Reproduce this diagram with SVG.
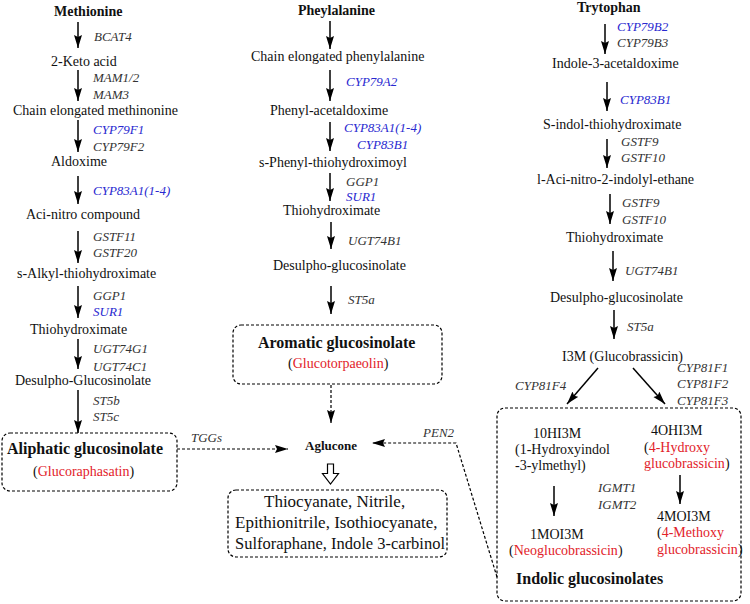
<svg xmlns="http://www.w3.org/2000/svg" width="750" height="604" viewBox="0 0 750 604">
<style>
text{font-family:"Liberation Serif","Times New Roman",serif;fill:#111;}
.n{font-size:14px;}
.t{font-size:14px;font-weight:bold;}
.b{font-size:16px;font-weight:bold;}
.l{font-size:13px;font-style:italic;fill:#333;}
.bl{fill:#2828d0;}
.r{fill:#e2222a;}
.p{font-size:17px;}
.ib{font-size:14px;}
.a{stroke:#000;stroke-width:1.5;fill:none;}
.d{stroke:#000;stroke-width:1.2;fill:none;stroke-dasharray:3,2;}
.box{stroke:#000;stroke-width:1.2;fill:#fff;stroke-dasharray:3,2;}
</style>
<defs>
<marker id="ah" markerUnits="userSpaceOnUse" markerWidth="14" markerHeight="10" refX="13" refY="4" orient="auto">
<path d="M0,0 L13,4 L0,8 L2,4 Z" fill="#000"/>
</marker>
</defs>
<rect width="750" height="604" fill="#fff"/>

<g id="boxes">
<rect id="aliphatic-box" x="2" y="433" width="175" height="58" rx="8" class="box"/>
<rect id="aromatic-box" x="233" y="325" width="209" height="59" rx="8" class="box"/>
<rect id="products-box" x="228" y="490" width="219" height="67" rx="8" class="box"/>
<rect id="indolic-box" x="497" y="408" width="244" height="193" rx="8" class="box"/>
</g>

<g id="connectors">
<line x1="78" y1="22" x2="78" y2="48" class="a" marker-end="url(#ah)"/>
<line x1="78" y1="70" x2="78" y2="101" class="a" marker-end="url(#ah)"/>
<line x1="78" y1="120" x2="78" y2="152" class="a" marker-end="url(#ah)"/>
<line x1="78" y1="176" x2="78" y2="204" class="a" marker-end="url(#ah)"/>
<line x1="78" y1="231" x2="78" y2="263" class="a" marker-end="url(#ah)"/>
<line x1="78" y1="286" x2="78" y2="318" class="a" marker-end="url(#ah)"/>
<line x1="78" y1="339" x2="78" y2="369" class="a" marker-end="url(#ah)"/>
<line x1="78" y1="390" x2="78" y2="433" class="a" marker-end="url(#ah)"/>

<line x1="330" y1="21" x2="330" y2="49" class="a" marker-end="url(#ah)"/>
<line x1="330" y1="70" x2="330" y2="101" class="a" marker-end="url(#ah)"/>
<line x1="330" y1="122" x2="330" y2="151" class="a" marker-end="url(#ah)"/>
<line x1="330" y1="173" x2="330" y2="201" class="a" marker-end="url(#ah)"/>
<line x1="331" y1="222" x2="331" y2="249" class="a" marker-end="url(#ah)"/>
<line x1="331" y1="286" x2="331" y2="314" class="a" marker-end="url(#ah)"/>

<line x1="605" y1="24" x2="605" y2="54" class="a" marker-end="url(#ah)"/>
<line x1="607" y1="82" x2="607" y2="111" class="a" marker-end="url(#ah)"/>
<line x1="607" y1="139" x2="607" y2="168" class="a" marker-end="url(#ah)"/>
<line x1="610" y1="194" x2="610" y2="224" class="a" marker-end="url(#ah)"/>
<line x1="613" y1="251" x2="613" y2="281" class="a" marker-end="url(#ah)"/>
<line x1="614" y1="310" x2="614" y2="339" class="a" marker-end="url(#ah)"/>
<line x1="598" y1="368" x2="567" y2="404" class="a" marker-end="url(#ah)"/>
<line x1="633" y1="368" x2="665" y2="404" class="a" marker-end="url(#ah)"/>
<line x1="554" y1="486" x2="554" y2="516" class="a" marker-end="url(#ah)"/>
<line x1="680" y1="475" x2="680" y2="504" class="a" marker-end="url(#ah)"/>

<line x1="177" y1="449" x2="288" y2="449" class="d" marker-end="url(#ah)"/>
<line x1="331" y1="385" x2="331" y2="423" class="d" marker-end="url(#ah)"/>
<polyline points="497,577 456,443 372,443" class="d" marker-end="url(#ah)"/>
<path d="M327.5,464 H333.5 V473.5 H338.5 L330.5,484 L322.5,473.5 H327.5 Z" fill="#fff" stroke="#000" stroke-width="1.2"/>
</g>

<g id="labels">
<text class="l" x="94" y="41">BCAT4</text>
<text class="l" x="93" y="82">MAM1/2</text>
<text class="l" x="93" y="98.5">MAM3</text>
<text class="l bl" x="93" y="134">CYP79F1</text>
<text class="l" x="93" y="150.5">CYP79F2</text>
<text class="l bl" x="93" y="195">CYP83A1(1-4)</text>
<text class="l" x="93" y="240.5">GSTF11</text>
<text class="l" x="93" y="257">GSTF20</text>
<text class="l" x="93" y="299.5">GGP1</text>
<text class="l bl" x="93" y="316">SUR1</text>
<text class="l" x="93" y="352.5">UGT74G1</text>
<text class="l" x="93" y="370.5">UGT74C1</text>
<text class="l" x="93" y="404.5">ST5b</text>
<text class="l" x="93" y="421">ST5c</text>
<text class="l" x="191" y="442">TGGs</text>

<text class="l bl" x="346" y="86">CYP79A2</text>
<text class="l bl" x="344" y="132">CYP83A1(1-4)</text>
<text class="l bl" x="357" y="149">CYP83B1</text>
<text class="l" x="346" y="185.5">GGP1</text>
<text class="l bl" x="346" y="200.5">SUR1</text>
<text class="l" x="348" y="244.5">UGT74B1</text>
<text class="l" x="348" y="303.5">ST5a</text>
<text class="l" x="423" y="437">PEN2</text>

<text class="l bl" x="617" y="30.5">CYP79B2</text>
<text class="l" x="617" y="47">CYP79B3</text>
<text class="l bl" x="620" y="103.5">CYP83B1</text>
<text class="l" x="621" y="145.5">GSTF9</text>
<text class="l" x="621" y="162">GSTF10</text>
<text class="l" x="622" y="207">GSTF9</text>
<text class="l" x="622" y="223.5">GSTF10</text>
<text class="l" x="625" y="274.5">UGT74B1</text>
<text class="l" x="627" y="330.5">ST5a</text>
<text class="l" x="515" y="389.5">CYP81F4</text>
<text class="l" x="677" y="371.5">CYP81F1</text>
<text class="l" x="677" y="388">CYP81F2</text>
<text class="l" x="677" y="405">CYP81F3</text>
<text class="l" x="598" y="492">IGMT1</text>
<text class="l" x="598" y="508.5">IGMT2</text>
</g>

<g id="methionine"><text class="t" x="54" y="16">Methionine</text></g>
<g id="keto-acid"><text class="n" x="51" y="65.5">2-Keto acid</text></g>
<g id="chain-met"><text class="n" x="13" y="115">Chain elongated methinonine</text></g>
<g id="aldoxime"><text class="n" x="51" y="166">Aldoxime</text></g>
<g id="aci-nitro"><text class="n" x="26" y="218.5">Aci-nitro compound</text></g>
<g id="s-alkyl"><text class="n" x="17" y="278">s-Alkyl-thiohydroximate</text></g>
<g id="thio-left"><text class="n" x="30" y="334">Thiohydroximate</text></g>
<g id="desulpho-left"><text class="n" x="15" y="385">Desulpho-Glucosinolate</text></g>
<g id="aliphatic">
<text class="b" x="7" y="454">Aliphatic glucosinolate</text>
<text class="n" x="33" y="476">(<tspan class="r">Glucoraphasatin</tspan>)</text>
</g>

<g id="phenylalanine"><text class="t" x="298" y="14.5">Pheylalanine</text></g>
<g id="chain-phe"><text class="n" x="251" y="61">Chain elongated phenylalanine</text></g>
<g id="phenyl-acet"><text class="n" x="270" y="114.5">Phenyl-acetaldoxime</text></g>
<g id="s-phenyl"><text class="n" x="259" y="167">s-Phenyl-thiohydroximoyl</text></g>
<g id="thio-mid"><text class="n" x="283" y="215">Thiohydroximate</text></g>
<g id="desulpho-mid"><text class="n" x="273" y="270">Desulpho-glucosinolate</text></g>
<g id="aromatic">
<text class="b" x="258" y="348">Aromatic glucosinolate</text>
<text class="n" x="288" y="368">(<tspan class="r">Glucotorpaeolin</tspan>)</text>
</g>
<g id="aglucone"><text x="305" y="450" style="font-size:13px;font-weight:bold">Aglucone</text></g>
<g id="products">
<text class="p" x="264" y="507">Thiocyanate, Nitrile,</text>
<text class="p" x="235" y="528">Epithionitrile, Isothiocyanate,</text>
<text class="p" x="235" y="549" textLength="210" lengthAdjust="spacingAndGlyphs">Sulforaphane, Indole 3-carbinol</text>
</g>

<g id="tryptophan"><text class="t" x="577" y="12">Trytophan</text></g>
<g id="indole-acet"><text class="n" x="552" y="68">Indole-3-acetaldoxime</text></g>
<g id="s-indol"><text class="n" x="543" y="129">S-indol-thiohydroximate</text></g>
<g id="aci-indolyl"><text class="n" x="537" y="184">l-Aci-nitro-2-indolyl-ethane</text></g>
<g id="thio-right"><text class="n" x="566" y="242">Thiohydroximate</text></g>
<g id="desulpho-right"><text class="n" x="550" y="302">Desulpho-glucosinolate</text></g>
<g id="i3m"><text class="n" x="562" y="361">I3M (Glucobrassicin)</text></g>
<g id="indolic">
<text class="ib" x="533" y="438">10HI3M</text>
<text class="ib" x="515" y="454">(1-Hydroxyindol</text>
<text class="ib" x="515" y="469.5">-3-ylmethyl)</text>
<text class="ib" x="530" y="539">1MOI3M</text>
<text class="ib" x="509" y="554.5">(<tspan class="r">Neoglucobrassicin</tspan>)</text>
<text class="ib" x="651" y="435">4OHI3M</text>
<text class="ib" x="644" y="452">(<tspan class="r">4-Hydroxy</tspan></text>
<text class="ib" x="644" y="468"><tspan class="r">glucobrassicin</tspan>)</text>
<text class="ib" x="657" y="521">4MOI3M</text>
<text class="ib" x="657" y="537">(<tspan class="r">4-Methoxy</tspan></text>
<text class="ib" x="657" y="554"><tspan class="r">glucobrassicin</tspan>)</text>
<text class="b" x="516" y="584">Indolic glucosinolates</text>
</g>
</svg>
